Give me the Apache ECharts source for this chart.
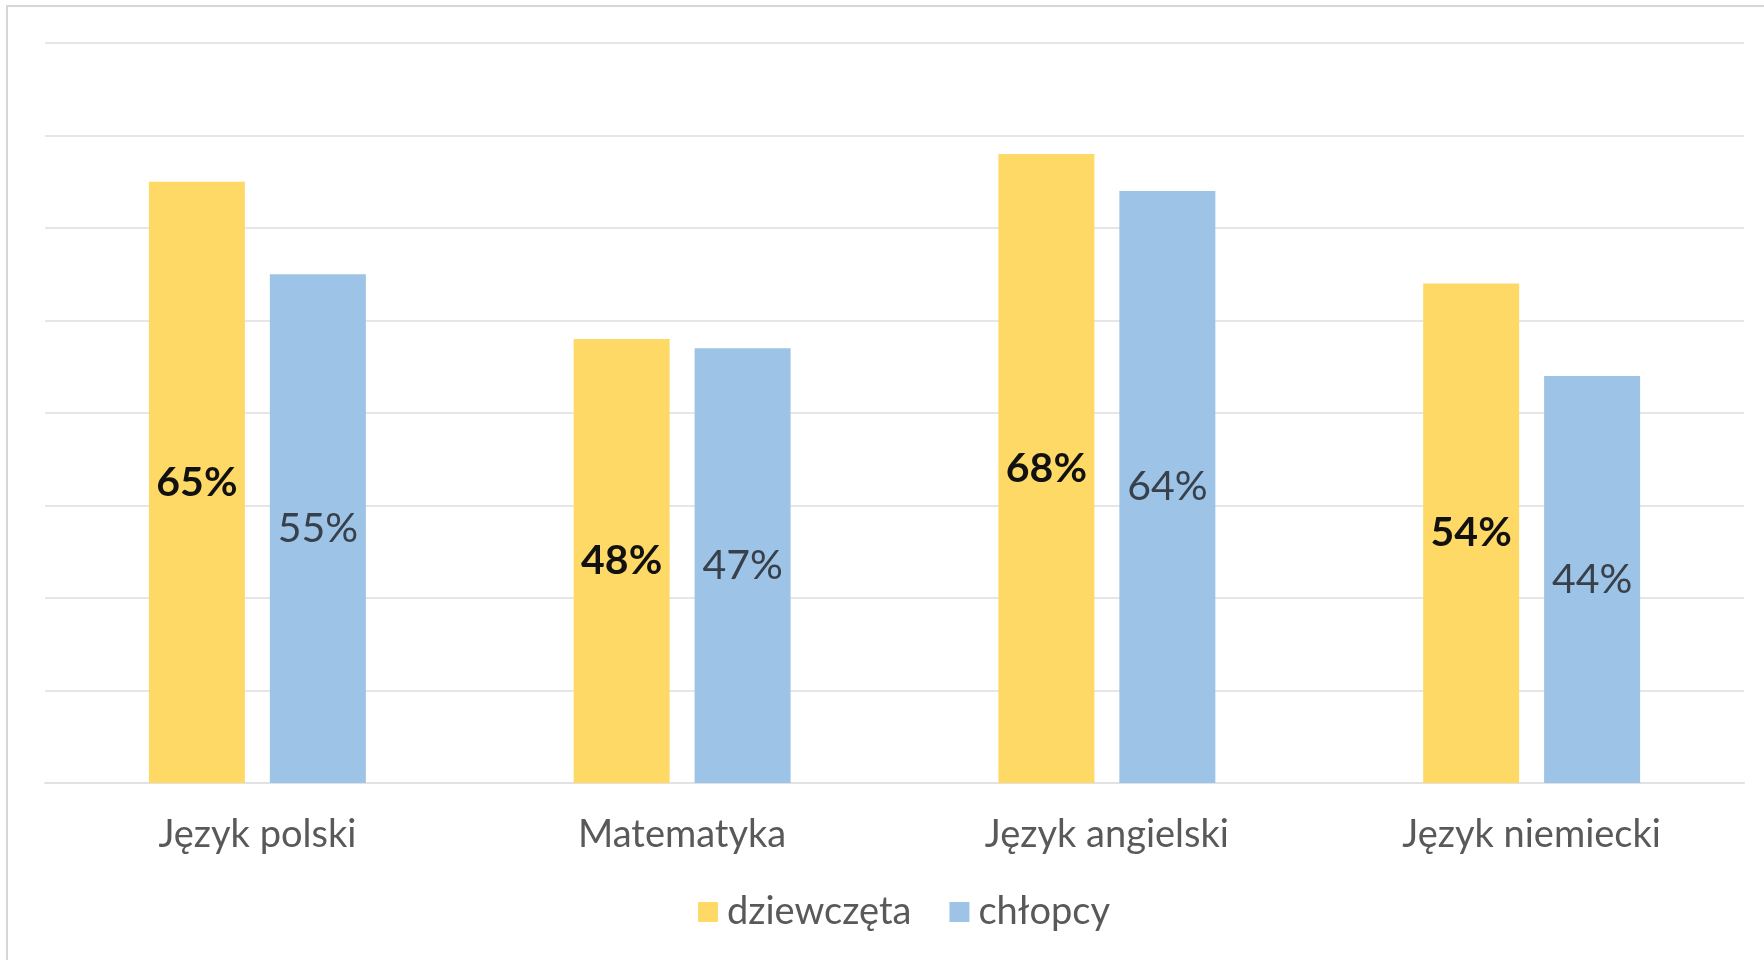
<!DOCTYPE html>
<html>
<head>
<meta charset="utf-8">
<script src="https://cdn.jsdelivr.net/npm/echarts@6/dist/echarts.min.js"></script>
<style>
html,body{margin:0;padding:0;background:#fff;}
#chart{width:1764px;height:960px;position:relative;}
#frame{position:absolute;left:6px;top:5px;right:-10px;bottom:-10px;border-left:2px solid #d6d6d6;border-top:2px solid #d6d6d6;pointer-events:none;}
</style>
</head>
<body>
<div id="chart"></div>
<div id="frame"></div>
<script>
const categories = ['Język polski', 'Matematyka', 'Język angielski', 'Język niemiecki'];
const seriesNames = ['dziewczęta', 'chłopcy'];
const girls = [65, 48, 68, 54];
const boys = [55, 47, 64, 44];

const chart = echarts.init(document.getElementById('chart'), null, {renderer: 'canvas'});
const font = 'Lato, "Noto Sans", sans-serif';
chart.setOption({
  animation: false,
  backgroundColor: '#ffffff',
  textStyle: {fontFamily: font},
  grid: {left: 45, right: 20, top: 43, bottom: 177, containLabel: false},
  legend: {
    data: seriesNames,
    left: 693,
    top: 888,
    itemWidth: 20,
    itemHeight: 20,
    itemGap: 38,
    icon: 'rect',
    textStyle: {fontFamily: font, fontSize: 38, color: '#595959', padding: [0, 0, 0, 4]}
  },
  xAxis: {
    type: 'category',
    data: categories,
    axisLine: {show: true, lineStyle: {color: '#e2e2e2', width: 2}},
    axisTick: {show: false},
    axisLabel: {fontFamily: font, fontSize: 38, color: '#595959', margin: 33}
  },
  yAxis: {
    type: 'value',
    min: 0,
    max: 80,
    interval: 10,
    axisLine: {show: false},
    axisTick: {show: false},
    axisLabel: {show: false},
    splitLine: {lineStyle: {color: '#e6e6e6', width: 2}}
  },
  series: [
    {
      name: seriesNames[0],
      type: 'bar',
      data: girls,
      barWidth: 96,
      barGap: '26%',
      itemStyle: {color: '#FFD966'},
      label: {
        show: true, position: 'inside',
        formatter: '{c}%',
        fontFamily: font, fontSize: 41, fontWeight: 'bold', color: '#111111'
      }
    },
    {
      name: seriesNames[1],
      type: 'bar',
      data: boys,
      barWidth: 96,
      barGap: '26%',
      itemStyle: {color: '#9DC3E6'},
      label: {
        show: true, position: 'inside',
        formatter: '{c}%',
        fontFamily: font, fontSize: 41, fontWeight: 'normal', color: '#37404b'
      }
    }
  ]
});
</script>
</body>
</html>
